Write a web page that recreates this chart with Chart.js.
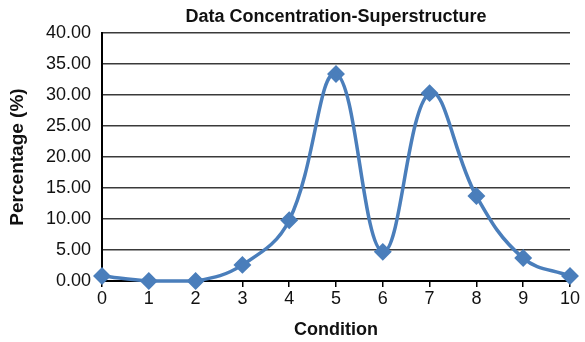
<!DOCTYPE html>
<html>
<head>
<meta charset="utf-8">
<script src="https://cdn.jsdelivr.net/npm/chart.js@4/dist/chart.umd.min.js"></script>
<style>
  html, body { margin: 0; padding: 0; background: #fff; }
  #wrap { width: 585px; height: 342px; position: relative; }
</style>
</head>
<body>
<div id="wrap"><canvas id="chart"></canvas></div>
<script>
const conditions = ['0', '1', '2', '3', '4', '5', '6', '7', '8', '9', '10'];
const percentages = [0.8, 0, 0, 2.6, 9.8, 33.4, 4.7, 30.3, 13.7, 3.7, 0.8];
const chartTitle = 'Data Concentration-Superstructure';
const xTitle = 'Condition';
const yTitle = 'Percentage (%)';

const blue = '#4a7ebb';
const font = 'Liberation Sans, Arial, sans-serif';

new Chart(document.getElementById('chart'), {
    type: 'line',
    data: {
        labels: conditions,
        datasets: [{
            data: percentages,
            borderColor: blue,
            backgroundColor: blue,
            borderWidth: 3.5,
            tension: 0.4,
            pointStyle: 'rectRot',
            pointRadius: 6.5,
            pointHoverRadius: 6.5,
            pointBackgroundColor: blue,
            pointBorderColor: blue,
            clip: false
        }]
    },
    options: {
        responsive: true,
        maintainAspectRatio: false,
        animation: false,
        layout: { padding: { top: 0, right: 15, left: 0, bottom: 0 } },
        plugins: {
            legend: { display: false },
            tooltip: { enabled: false },
            title: {
                display: true,
                text: chartTitle,
                fullSize: false,
                color: '#111',
                font: { family: font, size: 18, weight: 'bold' },
                padding: { top: 6, bottom: 5.4 }
            }
        },
        scales: {
            x: {
                offset: false,
                afterFit(scale) { scale.height = 61; },
                grid: {
                    drawOnChartArea: false,
                    drawTicks: true,
                    tickLength: 6,
                    color: '#000',
                    lineWidth: 1.5
                },
                border: { display: true, color: '#000', width: 2 },
                ticks: {
                    color: '#111',
                    font: { family: font, size: 18 },
                    padding: 1,
                    maxRotation: 0
                },
                title: {
                    display: true,
                    text: xTitle,
                    color: '#111',
                    font: { family: font, size: 18, weight: 'bold' },
                    padding: { top: 0, bottom: 1 }
                }
            },
            y: {
                min: 0,
                max: 40,
                afterFit(scale) { scale.width = 102; },
                grid: {
                    drawTicks: false,
                    color: '#3a3a3a',
                    lineWidth: 1.5
                },
                border: { display: true, color: '#000', width: 2 },
                ticks: {
                    stepSize: 5,
                    color: '#111',
                    font: { family: font, size: 18 },
                    padding: 11,
                    callback: v => v.toFixed(2)
                },
                title: {
                    display: true,
                    text: yTitle,
                    color: '#111',
                    font: { family: font, size: 19, weight: 'bold' },
                    padding: { top: 6, bottom: 0 }
                }
            }
        }
    }
});
</script>
</body>
</html>
